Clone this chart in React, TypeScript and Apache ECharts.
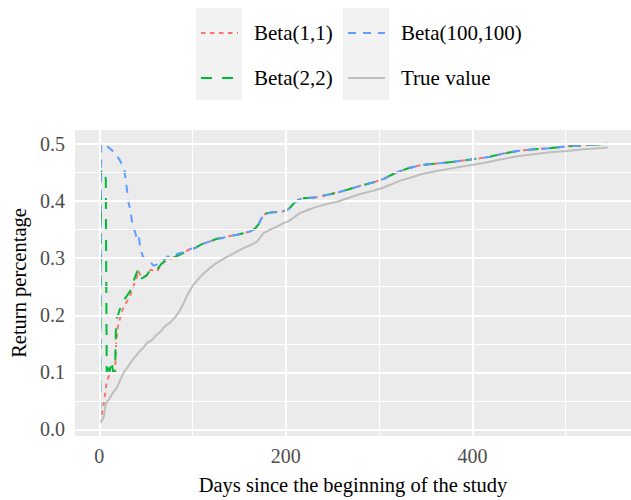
import React, { useEffect, useRef } from "react";
import * as echarts from "echarts";

// Axis ticks and grid positions
const X_TICKS = [0, 200, 400];
const X_MINOR = [100, 300, 500];
const Y_TICKS = [0, 0.1, 0.2, 0.3, 0.4, 0.5];
const Y_MINOR = [0.05, 0.15, 0.25, 0.35, 0.45];

const SERIES_NAMES = ["Beta(1,1)", "Beta(2,2)", "Beta(100,100)", "True value"];

// Shared late part where all three estimates overlap
const TAIL_DAYS = [103, 108, 112, 118, 126, 133, 140, 148, 155, 162, 167, 171, 174, 178, 184, 190, 197, 203, 208, 213, 218, 226, 233, 244, 255, 268, 280, 294, 305, 312, 320, 332, 344, 362, 380, 394, 408, 419, 432, 448, 466, 484, 501, 520, 545];
const TAIL_VALUES = [0.318, 0.323, 0.326, 0.329, 0.334, 0.336, 0.339, 0.341, 0.344, 0.347, 0.352, 0.36, 0.37, 0.378, 0.38, 0.381, 0.382, 0.386, 0.395, 0.402, 0.405, 0.406, 0.407, 0.411, 0.415, 0.421, 0.427, 0.433, 0.439, 0.445, 0.451, 0.458, 0.463, 0.466, 0.469, 0.472, 0.475, 0.478, 0.483, 0.488, 0.491, 0.493, 0.496, 0.498, 0.5005];

const BETA11_DAYS = [1, 2, 4, 5, 8, 11, 14, 17, 18, 20, 23, 26, 30, 33, 36, 39, 42, 45, 49, 52, 55, 58, 62, 66, 70, 74, 78, 82, 87, 92, 97];
const BETA11_VALUES = [0.01, 0.02, 0.035, 0.048, 0.082, 0.097, 0.1, 0.102, 0.15, 0.18, 0.2, 0.214, 0.225, 0.234, 0.249, 0.26, 0.278, 0.266, 0.268, 0.272, 0.28, 0.278, 0.277, 0.288, 0.294, 0.296, 0.3, 0.305, 0.308, 0.311, 0.316];

const BETA22_DAYS = [1, 2, 3, 5, 7, 8, 9, 11, 13, 15, 17, 18, 20, 23, 26, 30, 33, 36, 39, 41, 43, 47, 51, 54, 58, 62, 66, 70, 76, 82, 90, 97];
const BETA22_VALUES = [0.03, 0.456, 0.45, 0.445, 0.44, 0.1, 0.117, 0.1, 0.12, 0.1, 0.1, 0.19, 0.2, 0.215, 0.226, 0.235, 0.242, 0.256, 0.27, 0.278, 0.263, 0.266, 0.27, 0.278, 0.276, 0.28, 0.289, 0.295, 0.298, 0.303, 0.309, 0.315];

const BETA100_DAYS = [1, 2, 4, 8, 13, 17, 22, 27, 29, 31, 33, 36, 38, 40, 42, 44, 47, 51, 55, 58, 62, 66, 70, 73, 78, 82, 87, 92, 97];
const BETA100_VALUES = [0.012, 0.5, 0.5, 0.497, 0.49, 0.484, 0.472, 0.455, 0.43, 0.4, 0.387, 0.355, 0.348, 0.336, 0.341, 0.318, 0.302, 0.297, 0.293, 0.287, 0.289, 0.293, 0.298, 0.303, 0.302, 0.307, 0.309, 0.311, 0.316];

const TRUE_DAYS = [1, 3, 5, 7, 11, 15, 19, 22, 26, 30, 33, 38, 42, 47, 51, 56, 61, 66, 70, 76, 80, 83, 87, 90, 95, 101, 106, 111, 118, 126, 133, 140, 147, 155, 162, 169, 173, 176, 183, 190, 197, 203, 209, 215, 224, 233, 244, 255, 268, 280, 293, 305, 314, 322, 335, 347, 362, 376, 394, 412, 430, 448, 466, 483, 501, 519, 545];
const TRUE_VALUES = [0.013, 0.016, 0.022, 0.045, 0.054, 0.065, 0.073, 0.085, 0.099, 0.108, 0.1155, 0.126, 0.134, 0.143, 0.151, 0.156, 0.165, 0.172, 0.18, 0.187, 0.194, 0.2, 0.21, 0.22, 0.237, 0.254, 0.263, 0.272, 0.282, 0.292, 0.299, 0.305, 0.311, 0.318, 0.323, 0.329, 0.337, 0.344, 0.35, 0.355, 0.361, 0.365, 0.372, 0.379, 0.385, 0.39, 0.395, 0.399, 0.406, 0.4126, 0.418, 0.424, 0.43, 0.4355, 0.442, 0.448, 0.453, 0.457, 0.462, 0.467, 0.473, 0.4786, 0.482, 0.4855, 0.488, 0.491, 0.494];

const pairs = (d: number[], v: number[]) => d.map((x, i) => [x, v[i]]);
const withTail = (d: number[], v: number[]) => pairs(d.concat(TAIL_DAYS), v.concat(TAIL_VALUES));

const FONT = "Liberation Serif";

function makeLegend(left: number, names: string[]) {
  return {
    orient: "vertical",
    left,
    top: 22.5,
    padding: 0,
    itemWidth: 37,
    itemHeight: 21,
    itemGap: 24,
    selectedMode: false,
    data: names.map((n) => ({ name: n, textStyle: { fontFamily: FONT } })),
    itemStyle: { color: "rgba(0,0,0,0)", borderWidth: 0 },
    formatter: (name: string) => "{t|" + name + "}",
    textStyle: {
      fontFamily: FONT,
      fontSize: 21,
      color: "#000",
      rich: { t: { fontFamily: FONT, fontSize: 21, color: "#000", lineHeight: 21, padding: [0, 0, 0, 11] } },
    },
  };
}

export default function App() {
  const ref = useRef<HTMLDivElement>(null);
  useEffect(() => {
    const chart = echarts.init(ref.current!, null, { renderer: "svg" });
    const major = { color: "#ffffff", width: 2.1, type: "solid" };
    const minor = { color: "#ffffff", width: 1.1, type: "solid" };
    chart.setOption({
      animation: false,
      backgroundColor: "#ffffff",
      textStyle: { fontFamily: FONT },
      graphic: [
        { type: "rect", z: 0, shape: { x: 196, y: 8, width: 46, height: 92 }, style: { fill: "#F2F2F2" } },
        { type: "rect", z: 0, shape: { x: 343, y: 8, width: 46, height: 92 }, style: { fill: "#F2F2F2" } },
      ],
      legend: [makeLegend(200, [SERIES_NAMES[0], SERIES_NAMES[1]]), makeLegend(347, [SERIES_NAMES[2], SERIES_NAMES[3]])],
      grid: {
        left: 75,
        top: 130,
        width: 556,
        height: 311,
        show: true,
        backgroundColor: "#EBEBEB",
        borderWidth: 0,
      },
      xAxis: {
        type: "value",
        min: -26,
        max: 570,
        name: "Days since the beginning of the study",
        nameLocation: "middle",
        nameGap: 38,
        nameTextStyle: { fontFamily: FONT, fontSize: 20.5, color: "#000" },
        axisLine: { show: false },
        splitLine: { show: false },
        axisTick: { show: true, length: 5, lineStyle: { color: "#333333", width: 2 }, customValues: X_TICKS },
        axisLabel: { customValues: X_TICKS, margin: 10, fontFamily: FONT, fontSize: 20, color: "#4D4D4D" },
      },
      yAxis: {
        type: "value",
        min: -0.0116,
        max: 0.5247,
        name: "Return percentage",
        nameLocation: "middle",
        nameGap: 40,
        nameTextStyle: { fontFamily: FONT, fontSize: 20.5, color: "#000" },
        axisLine: { show: false },
        splitLine: { show: false },
        axisTick: { show: true, length: 5, lineStyle: { color: "#333333", width: 2 }, customValues: Y_TICKS },
        axisLabel: {
          customValues: Y_TICKS,
          margin: 10,
          fontFamily: FONT,
          fontSize: 20,
          color: "#4D4D4D",
          formatter: (v: number) => v.toFixed(1),
        },
      },
      series: [
        {
          type: "line",
          name: "gridlines",
          data: [],
          z: 1,
          silent: true,
          markLine: {
            silent: true,
            symbol: ["none", "none"],
            label: { show: false },
            emphasis: { disabled: true },
            data: [
              ...X_MINOR.map((v) => ({ xAxis: v, lineStyle: minor })),
              ...Y_MINOR.map((v) => ({ yAxis: v, lineStyle: minor })),
              ...X_TICKS.map((v) => ({ xAxis: v, lineStyle: major })),
              ...Y_TICKS.map((v) => ({ yAxis: v, lineStyle: major })),
            ],
          },
        },
        {
          type: "line",
          name: SERIES_NAMES[0],
          data: withTail(BETA11_DAYS, BETA11_VALUES),
          symbol: "none",
          showSymbol: false,
          z: 2,
          lineStyle: { color: "#F8766D", width: 2, type: [4.5, 4.5] },
          itemStyle: { color: "#F8766D" },
        },
        {
          type: "line",
          name: SERIES_NAMES[1],
          data: withTail(BETA22_DAYS, BETA22_VALUES),
          symbol: "none",
          showSymbol: false,
          z: 3,
          lineStyle: { color: "#00BA38", width: 2, type: [11, 10] },
          itemStyle: { color: "#00BA38" },
        },
        {
          type: "line",
          name: SERIES_NAMES[2],
          data: withTail(BETA100_DAYS, BETA100_VALUES),
          symbol: "none",
          showSymbol: false,
          z: 4,
          lineStyle: { color: "#619CFF", width: 2, type: [8, 7] },
          itemStyle: { color: "#619CFF" },
        },
        {
          type: "line",
          name: SERIES_NAMES[3],
          data: pairs(TRUE_DAYS, TRUE_VALUES),
          symbol: "none",
          showSymbol: false,
          z: 5,
          lineStyle: { color: "#BEBEBE", width: 2, type: "solid" },
          itemStyle: { color: "#BEBEBE" },
        },
      ],
    });
    return () => chart.dispose();
  }, []);
  return (
    <div
      ref={ref}
      style={{ position: "fixed", left: 0, top: 0, width: 631, height: 500, background: "#fff" }}
    />
  );
}
